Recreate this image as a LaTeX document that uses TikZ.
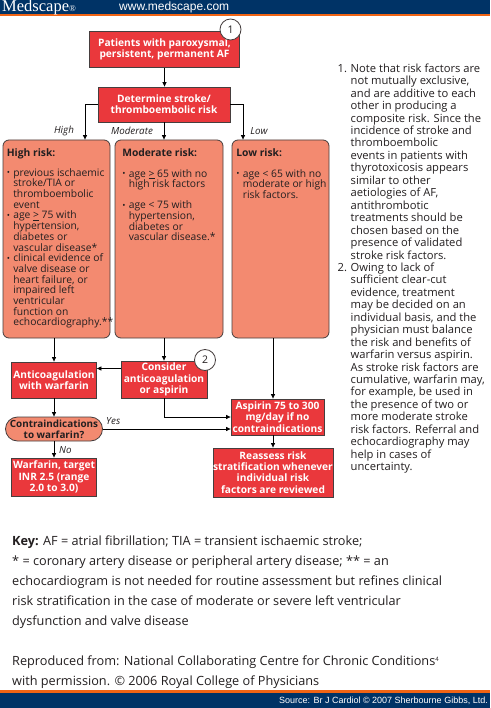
\documentclass[tikz,border=0pt]{standalone}
\usepackage{fontspec}
\setmainfont{Open Sans}
\newfontfamily\logofont{Liberation Serif}
\newfontfamily\arialfont{Liberation Sans}
\usetikzlibrary{arrows.meta,calc}
\definecolor{navy}{RGB}{0,51,102}
\definecolor{orangeline}{RGB}{240,100,20}
\definecolor{boxred}{RGB}{234,56,60}
\definecolor{salmon}{RGB}{243,138,112}
\definecolor{edgec}{RGB}{70,62,62}
\definecolor{txt}{RGB}{35,31,32}
\newcommand{\mybul}{\makebox[6.5pt][l]{\raisebox{0.2pt}{\fontsize{8.5}{8}\selectfont•}}}
\newcommand{\myind}{\hspace*{6.5pt}}
\newcommand{\nind}{\hspace*{13pt}}
\begin{document}
\begin{tikzpicture}[x=1pt,y=-1pt,
  redbox/.style={draw=edgec, line width=0.8pt, fill=boxred, text=white,
    font=\bfseries\fontsize{10.2}{11.3}\selectfont, align=center, inner sep=0pt},
  riskbox/.style={draw=edgec, line width=0.8pt, fill=salmon, rounded corners=6pt, inner sep=0pt},
  risktext/.style={text=txt, font=\fontsize{10.3}{10.7}\selectfont, align=left, inner sep=0pt},
  pill/.style={draw=edgec, line width=0.8pt, fill=salmon, rounded corners=12pt, text=txt,
    font=\bfseries\fontsize{9.9}{11}\selectfont, align=center, inner sep=0pt},
  numcirc/.style={circle, draw=edgec, line width=0.8pt, fill=white, minimum size=21pt, inner sep=0pt,
    text=txt, font=\fontsize{10.5}{10}\selectfont},
  arr/.style={-{Triangle[length=4.5pt,width=4pt]}, line width=0.7pt, draw=black},
  lbl/.style={text=txt, font=\itshape\fontsize{9.8}{10}\selectfont, inner sep=0pt},
  bodytext/.style={text=txt, align=left, inner sep=0pt}
]
\useasboundingbox (0,0) rectangle (490,708);
\fill[white] (0,0) rectangle (490,708);
% header
\fill[navy] (0,0) rectangle (490,14);
\fill[orangeline] (0,14) rectangle (490,16.5);
\node[anchor=west, white, inner sep=0pt, font=\logofont\fontsize{16.5}{16}\selectfont] (logo) at (2,7.8) {Medscape{\fontsize{9}{9}\selectfont ®}};
\node[anchor=west, white, inner sep=0pt, font=\arialfont\fontsize{12}{12}\selectfont] (url) at (119,7.5) {www.medscape.com};
% footer
\fill[orangeline] (0,690) rectangle (490,693);
\fill[navy] (0,693) rectangle (490,708);
\node[anchor=east, white, inner sep=0pt, font=\arialfont\fontsize{9}{9}\selectfont] (src) at (488,700.5) {Source: Br J Cardiol © 2007 Sherbourne Gibbs, Ltd.};

% top boxes
\node[redbox, minimum width=150pt, minimum height=36pt] (b1) at (164.5,49.5) {Patients with paroxysmal,\\persistent, permanent AF};
\node[numcirc] (c1) at (230.5,29.5) {1};
\node[redbox, minimum width=132pt, minimum height=35pt] (b2) at (164,104.5) {Determine stroke/\\thromboembolic risk};

% risk boxes
\node[riskbox, minimum width=107pt, minimum height=198pt] (hb) at (56.5,239) {};
\node[riskbox, minimum width=108pt, minimum height=198pt] (mb) at (169,239) {};
\node[riskbox, minimum width=97pt, minimum height=198pt] (lb) at (280.5,239) {};

\node[risktext, anchor=north west] (ht) at ([xshift=4pt,yshift=-8.5pt]hb.north west) {{\bfseries High risk:}\\[9.3pt]
\mybul previous ischaemic\\
\myind stroke/TIA or\\
\myind thromboembolic\\
\myind event\\
\mybul age \underline{>} 75 with\\
\myind hypertension,\\
\myind diabetes or\\
\myind vascular disease*\\
\mybul clinical evidence of\\
\myind valve disease or\\
\myind heart failure, or\\
\myind impaired left\\
\myind ventricular\\
\myind function on\\
\myind echocardiography.**};

\node[risktext, anchor=north west] (mt) at ([xshift=7.5pt,yshift=-8.5pt]mb.north west) {{\bfseries Moderate risk:}\\[10.3pt]
\mybul age \underline{>} 65 with no\\
\myind high risk factors\\[10.3pt]
\mybul age < 75 with\\
\myind hypertension,\\
\myind diabetes or\\
\myind vascular disease.*};

\node[risktext, anchor=north west] (lt) at ([xshift=4.5pt,yshift=-8.5pt]lb.north west) {{\bfseries Low risk:}\\[10.3pt]
\mybul age < 65 with no\\
\myind moderate or high\\
\myind risk factors.};

% branch labels
\node[lbl] (lh) at (64,131) {High};
\node[lbl] (lm) at (132,131) {Moderate};
\node[lbl] (ll) at (259,131) {Low};

% lower boxes
\node[redbox, minimum width=85pt, minimum height=36pt] (ac) at (54,380) {Anticoagulation\\with warfarin};
\node[redbox, minimum width=86pt, minimum height=37pt] (cons) at (164,379.5) {Consider\\anticoagulation\\or aspirin};
\node[numcirc] (c2) at (205,360) {2};
\node[pill, minimum width=97pt, minimum height=24pt] (ci) at (54,429) {Contraindications\\to warfarin?};
\node[redbox, minimum width=85pt, minimum height=38pt] (wf) at (54,477) {Warfarin, target\\INR 2.5 (range\\2.0 to 3.0)};
\node[redbox, minimum width=93pt, minimum height=36pt] (asp) at (277.5,417) {Aspirin 75 to 300\\mg/day if no\\contraindications};
\node[redbox, minimum width=120pt, minimum height=49pt] (rs) at (273,472.5) {Reassess risk\\stratification whenever\\individual risk\\factors are reviewed};
\node[lbl, anchor=west] (ly) at (106,421) {Yes};
\node[lbl, anchor=west] (ln) at (59,450) {No};

% connectors
\draw[arr] (b1.south) -- (b1.south |- b2.north);
\draw[arr] (b2.west) -| ([xshift=28.5pt]hb.north);
\draw[arr] (b2.south) -- (b2.south |- mb.north);
\draw[arr] (b2.east) -| ([xshift=-37.5pt]lb.north);
\draw[arr] (ac.north |- hb.south) -- (ac.north);
\draw[arr] (cons.north |- mb.south) -- (cons.north);
\draw[arr] ([yshift=11pt]cons.west) -- ([yshift=11pt]cons.west -| ac.east);
\draw[arr] (cons.south) |- (asp.west);
\draw[arr] (ac.south) -- (ci.north);
\draw[arr] (ci.east) -- (ci.east -| asp.west);
\draw[arr] (ci.south) -- (wf.north);
\draw[arr] (rs.north |- lb.south) -- (rs.north |- asp.north);
\draw[arr] (rs.north |- asp.south) -- (rs.north);

% notes
\node[bodytext, anchor=north west, font=\fontsize{11.2}{12.45}\selectfont] (notes) at (337.5,63.5) {%
\makebox[13pt][l]{1.}Note that risk factors are\\
\nind not mutually exclusive,\\
\nind and are additive to each\\
\nind other in producing a\\
\nind composite risk. Since the\\
\nind incidence of stroke and\\
\nind thromboembolic\\
\nind events in patients with\\
\nind thyrotoxicosis appears\\
\nind similar to other\\
\nind aetiologies of AF,\\
\nind antithrombotic\\
\nind treatments should be\\
\nind chosen based on the\\
\nind presence of validated\\
\nind stroke risk factors.\\
\makebox[13pt][l]{2.}Owing to lack of\\
\nind sufficient clear-cut\\
\nind evidence, treatment\\
\nind may be decided on an\\
\nind individual basis, and the\\
\nind physician must balance\\
\nind the risk and benefits of\\
\nind warfarin versus aspirin.\\
\nind As stroke risk factors are\\
\nind cumulative, warfarin may,\\
\nind for example, be used in\\
\nind the presence of two or\\
\nind more moderate stroke\\
\nind risk factors. Referral and\\
\nind echocardiography may\\
\nind help in cases of\\
\nind uncertainty.};

% key
\node[bodytext, anchor=north west, font=\fontsize{12.7}{19.8}\selectfont] (key) at (12,536) {%
\textbf{Key:} AF = atrial fibrillation; TIA = transient ischaemic stroke;\\
* = coronary artery disease or peripheral artery disease; ** = an\\
echocardiogram is not needed for routine assessment but refines clinical\\
risk stratification in the case of moderate or severe left ventricular\\
dysfunction and valve disease};

\node[bodytext, anchor=north west, font=\fontsize{12.7}{19.8}\selectfont] (repro) at (12,655.5) {%
Reproduced from: National Collaborating Centre for Chronic Conditions{\fontsize{6}{6}\selectfont\raisebox{4pt}{4}}\\
with permission. © 2006 Royal College of Physicians};
\end{tikzpicture}
\end{document}
